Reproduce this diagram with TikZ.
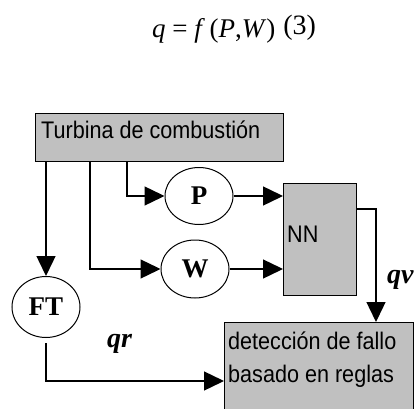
\documentclass[tikz,border=0pt]{standalone}
\usepackage{fontspec}
\setmainfont{Liberation Serif}
\newfontfamily\arialn[FakeStretch=0.9]{Liberation Sans}
\usetikzlibrary{arrows.meta,shapes.geometric}
\definecolor{boxgray}{HTML}{C0C0C0}
\tikzset{
  graybox/.style={draw=black, fill=boxgray, line width=1.4pt, inner sep=0pt, anchor=north west},
  sanslbl/.style={font=\arialn\fontsize{24}{33}\selectfont, inner sep=0pt, anchor=base west},
  oval/.style={draw=black, ellipse, line width=1pt, inner sep=0pt, font=\bfseries\fontsize{27}{30}\selectfont},
  conn/.style={line width=1.4pt, -{Triangle[length=20pt,width=19pt]}},
  qlbl/.style={font=\bfseries\itshape\fontsize{28}{30}\selectfont, inner sep=0pt, anchor=base west}
}
\begin{document}
\begin{tikzpicture}[x=1pt,y=-1pt]
\clip (0,0) rectangle (420,409);
\useasboundingbox (0,0) rectangle (420,409);
% equation
\node[inner sep=0pt, anchor=base west, font=\fontsize{27}{30}\selectfont] (eq) at (152,38)
  {\textit{q} = \textit{f}\,(\textit{P},\textit{W})\hspace{8pt}\raisebox{3pt}{\fontsize{28}{30}\selectfont(3)}};
% boxes
\node[graybox, minimum width=248pt, minimum height=48pt] (turb) at (35,113) {};
\node[sanslbl] (turbtxt) at (41,139) {Turbina de combustión};
\node[graybox, minimum width=73pt, minimum height=112pt] (nn) at (283,183) {};
\node[sanslbl] (nntxt) at (287,242) {NN};
\node[graybox, minimum width=189pt, minimum height=95pt] (det) at (224,322) {};
\node[sanslbl] (dettxt1) at (228,349) {detección de fallo};
\node[sanslbl] (dettxt2) at (228,382) {basado en reglas};
% ovals
\node[oval, minimum width=68pt, minimum height=57pt] (P) at (199,196) {P};
\node[oval, minimum width=68pt, minimum height=58pt] (W) at (195,269) {W};
\node[oval, minimum width=68pt, minimum height=61pt] (FT) at (46,307) {FT};
% connectors
\draw[conn] ([xshift=92pt]turb.south west) |- (P.west);
\draw[conn] ([xshift=55pt]turb.south west) |- (W.west);
\draw[conn] (turb.south west -| FT.north) -- (FT.north);
\draw[conn] (P.east) -- (P.east -| nn.west);
\draw[conn] (W.east) -- (W.east -| nn.west);
\draw[conn] ([yshift=-26pt]nn.north east) -| ([xshift=152pt]det.north west);
\draw[conn, shorten <=5pt] (FT.south) |- ([yshift=-59pt]det.north west);
% labels
\node[qlbl] (qv) at (387,283) {qv};
\node[qlbl] (qr) at (107,347) {qr};
\end{tikzpicture}
\end{document}
